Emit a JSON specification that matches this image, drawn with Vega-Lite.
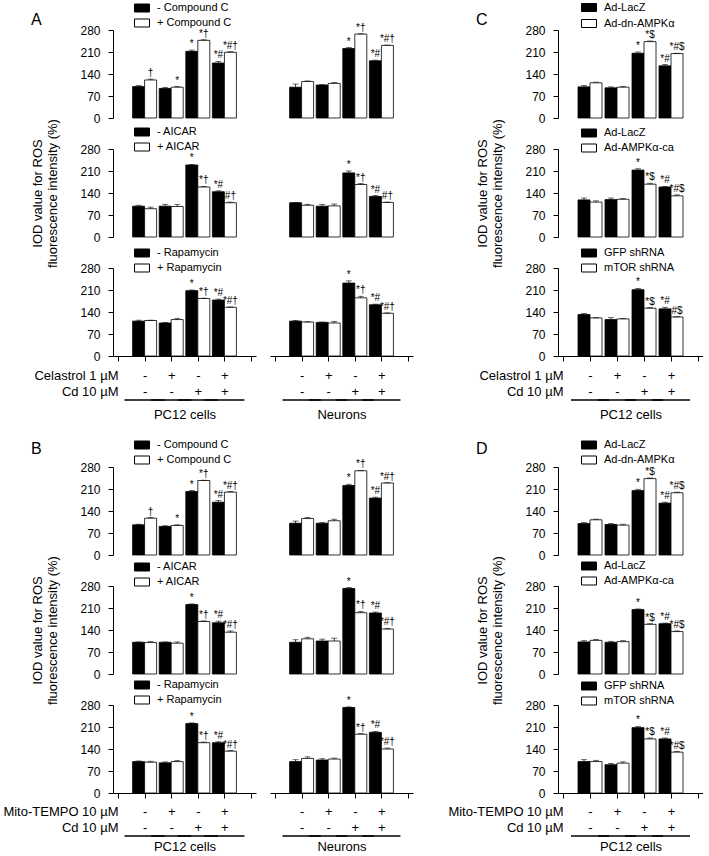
{
"$schema":"https://vega.github.io/schema/vega-lite/v6.json",
"background":"white",
"padding":{"left":2,"top":2,"right":0,"bottom":0},
"columns":4,
"spacing":{"row":31,"column":14},
"bounds":"flush",
"resolve":{"scale":{"x":"independent","y":"independent","fill":"independent"},"legend":{"fill":"independent"},"axis":{"x":"independent","y":"independent"}},
"datasets":{
"A1P":[{"g":1,"k":0,"t":"- Compound C","v":100,"hi":103,"s":""},{"g":1,"k":1,"t":"+ Compound C","v":121,"hi":124,"s":"†"},{"g":2,"k":0,"t":"- Compound C","v":94,"hi":97,"s":""},{"g":2,"k":1,"t":"+ Compound C","v":98,"hi":100,"s":"*"},{"g":3,"k":0,"t":"- Compound C","v":212,"hi":216,"s":"*"},{"g":3,"k":1,"t":"+ Compound C","v":247,"hi":249,"s":"*†"},{"g":4,"k":0,"t":"- Compound C","v":175,"hi":180,"s":"*#"},{"g":4,"k":1,"t":"+ Compound C","v":209,"hi":211,"s":"*#†"}],
"A1N":[{"g":1,"k":0,"t":"- Compound C","v":98,"hi":108,"s":""},{"g":1,"k":1,"t":"+ Compound C","v":116,"hi":118,"s":""},{"g":2,"k":0,"t":"- Compound C","v":105,"hi":106,"s":""},{"g":2,"k":1,"t":"+ Compound C","v":110,"hi":113,"s":""},{"g":3,"k":0,"t":"- Compound C","v":221,"hi":224,"s":"*"},{"g":3,"k":1,"t":"+ Compound C","v":267,"hi":268,"s":"*†"},{"g":4,"k":0,"t":"- Compound C","v":182,"hi":184,"s":"*#"},{"g":4,"k":1,"t":"+ Compound C","v":231,"hi":232,"s":"*#†"}],
"A2P":[{"g":1,"k":0,"t":"- AICAR","v":98,"hi":101,"s":""},{"g":1,"k":1,"t":"+ AICAR","v":90,"hi":95,"s":""},{"g":2,"k":0,"t":"- AICAR","v":98,"hi":104,"s":""},{"g":2,"k":1,"t":"+ AICAR","v":97,"hi":103,"s":""},{"g":3,"k":0,"t":"- AICAR","v":229,"hi":231,"s":"*"},{"g":3,"k":1,"t":"+ AICAR","v":159,"hi":161,"s":"*†"},{"g":4,"k":0,"t":"- AICAR","v":144,"hi":147,"s":"*#"},{"g":4,"k":1,"t":"+ AICAR","v":109,"hi":111,"s":"#†"}],
"A2N":[{"g":1,"k":0,"t":"- AICAR","v":109,"hi":110,"s":""},{"g":1,"k":1,"t":"+ AICAR","v":101,"hi":104,"s":""},{"g":2,"k":0,"t":"- AICAR","v":98,"hi":104,"s":""},{"g":2,"k":1,"t":"+ AICAR","v":99,"hi":105,"s":""},{"g":3,"k":0,"t":"- AICAR","v":204,"hi":210,"s":"*"},{"g":3,"k":1,"t":"+ AICAR","v":167,"hi":170,"s":"*†"},{"g":4,"k":0,"t":"- AICAR","v":129,"hi":132,"s":"*#"},{"g":4,"k":1,"t":"+ AICAR","v":110,"hi":111,"s":"#†"}],
"A3P":[{"g":1,"k":0,"t":"- Rapamycin","v":111,"hi":114,"s":""},{"g":1,"k":1,"t":"+ Rapamycin","v":113,"hi":114,"s":""},{"g":2,"k":0,"t":"- Rapamycin","v":105,"hi":107,"s":""},{"g":2,"k":1,"t":"+ Rapamycin","v":116,"hi":120,"s":""},{"g":3,"k":0,"t":"- Rapamycin","v":208,"hi":210,"s":"*"},{"g":3,"k":1,"t":"+ Rapamycin","v":183,"hi":184,"s":"*†"},{"g":4,"k":0,"t":"- Rapamycin","v":178,"hi":181,"s":"*#"},{"g":4,"k":1,"t":"+ Rapamycin","v":155,"hi":156,"s":"*#†"}],
"A3N":[{"g":1,"k":0,"t":"- Rapamycin","v":111,"hi":113,"s":""},{"g":1,"k":1,"t":"+ Rapamycin","v":108,"hi":109,"s":""},{"g":2,"k":0,"t":"- Rapamycin","v":107,"hi":108,"s":""},{"g":2,"k":1,"t":"+ Rapamycin","v":105,"hi":110,"s":""},{"g":3,"k":0,"t":"- Rapamycin","v":232,"hi":239,"s":"*"},{"g":3,"k":1,"t":"+ Rapamycin","v":185,"hi":190,"s":"*†"},{"g":4,"k":0,"t":"- Rapamycin","v":163,"hi":165,"s":"*#"},{"g":4,"k":1,"t":"+ Rapamycin","v":136,"hi":137,"s":"*#†"}],
"C1":[{"g":1,"k":0,"t":"Ad-LacZ","v":99,"hi":103,"s":""},{"g":1,"k":1,"t":"Ad-dn-AMPKα","v":112,"hi":114,"s":""},{"g":2,"k":0,"t":"Ad-LacZ","v":96,"hi":99,"s":""},{"g":2,"k":1,"t":"Ad-dn-AMPKα","v":98,"hi":100,"s":""},{"g":3,"k":0,"t":"Ad-LacZ","v":206,"hi":210,"s":"*"},{"g":3,"k":1,"t":"Ad-dn-AMPKα","v":243,"hi":245,"s":"*$"},{"g":4,"k":0,"t":"Ad-LacZ","v":166,"hi":170,"s":"*#"},{"g":4,"k":1,"t":"Ad-dn-AMPKα","v":205,"hi":206,"s":"*#$"}],
"C2":[{"g":1,"k":0,"t":"Ad-LacZ","v":118,"hi":124,"s":""},{"g":1,"k":1,"t":"Ad-AMPKα-ca","v":111,"hi":115,"s":""},{"g":2,"k":0,"t":"Ad-LacZ","v":119,"hi":124,"s":""},{"g":2,"k":1,"t":"Ad-AMPKα-ca","v":120,"hi":122,"s":""},{"g":3,"k":0,"t":"Ad-LacZ","v":213,"hi":217,"s":"*"},{"g":3,"k":1,"t":"Ad-AMPKα-ca","v":168,"hi":171,"s":"*$"},{"g":4,"k":0,"t":"Ad-LacZ","v":159,"hi":161,"s":"*#"},{"g":4,"k":1,"t":"Ad-AMPKα-ca","v":131,"hi":134,"s":"*#$"}],
"C3":[{"g":1,"k":0,"t":"GFP shRNA","v":132,"hi":135,"s":""},{"g":1,"k":1,"t":"mTOR shRNA","v":121,"hi":122,"s":""},{"g":2,"k":0,"t":"GFP shRNA","v":116,"hi":122,"s":""},{"g":2,"k":1,"t":"mTOR shRNA","v":118,"hi":119,"s":""},{"g":3,"k":0,"t":"GFP shRNA","v":211,"hi":215,"s":"*"},{"g":3,"k":1,"t":"mTOR shRNA","v":152,"hi":154,"s":"*$"},{"g":4,"k":0,"t":"GFP shRNA","v":150,"hi":155,"s":"*#"},{"g":4,"k":1,"t":"mTOR shRNA","v":124,"hi":125,"s":"#$"}],
"B1P":[{"g":1,"k":0,"t":"- Compound C","v":96,"hi":98,"s":""},{"g":1,"k":1,"t":"+ Compound C","v":117,"hi":119,"s":"†"},{"g":2,"k":0,"t":"- Compound C","v":91,"hi":93,"s":""},{"g":2,"k":1,"t":"+ Compound C","v":94,"hi":96,"s":"*"},{"g":3,"k":0,"t":"- Compound C","v":202,"hi":205,"s":"*"},{"g":3,"k":1,"t":"+ Compound C","v":237,"hi":238,"s":"*†"},{"g":4,"k":0,"t":"- Compound C","v":168,"hi":173,"s":"*#"},{"g":4,"k":1,"t":"+ Compound C","v":200,"hi":202,"s":"*#†"}],
"B1N":[{"g":1,"k":0,"t":"- Compound C","v":101,"hi":108,"s":""},{"g":1,"k":1,"t":"+ Compound C","v":116,"hi":119,"s":""},{"g":2,"k":0,"t":"- Compound C","v":101,"hi":103,"s":""},{"g":2,"k":1,"t":"+ Compound C","v":109,"hi":114,"s":""},{"g":3,"k":0,"t":"- Compound C","v":221,"hi":225,"s":"*"},{"g":3,"k":1,"t":"+ Compound C","v":268,"hi":269,"s":"*†"},{"g":4,"k":0,"t":"- Compound C","v":181,"hi":184,"s":"*#"},{"g":4,"k":1,"t":"+ Compound C","v":229,"hi":230,"s":"*#†"}],
"B2P":[{"g":1,"k":0,"t":"- AICAR","v":101,"hi":102,"s":""},{"g":1,"k":1,"t":"+ AICAR","v":100,"hi":103,"s":""},{"g":2,"k":0,"t":"- AICAR","v":101,"hi":102,"s":""},{"g":2,"k":1,"t":"+ AICAR","v":98,"hi":102,"s":""},{"g":3,"k":0,"t":"- AICAR","v":221,"hi":223,"s":"*"},{"g":3,"k":1,"t":"+ AICAR","v":167,"hi":169,"s":"*†"},{"g":4,"k":0,"t":"- AICAR","v":163,"hi":168,"s":"*#"},{"g":4,"k":1,"t":"+ AICAR","v":133,"hi":137,"s":"*#†"}],
"B2N":[{"g":1,"k":0,"t":"- AICAR","v":101,"hi":109,"s":""},{"g":1,"k":1,"t":"+ AICAR","v":112,"hi":117,"s":""},{"g":2,"k":0,"t":"- AICAR","v":105,"hi":111,"s":""},{"g":2,"k":1,"t":"+ AICAR","v":105,"hi":114,"s":""},{"g":3,"k":0,"t":"- AICAR","v":272,"hi":275,"s":"*"},{"g":3,"k":1,"t":"+ AICAR","v":195,"hi":199,"s":"*†"},{"g":4,"k":0,"t":"- AICAR","v":194,"hi":197,"s":"*#"},{"g":4,"k":1,"t":"+ AICAR","v":143,"hi":145,"s":"*#†"}],
"B3P":[{"g":1,"k":0,"t":"- Rapamycin","v":100,"hi":102,"s":""},{"g":1,"k":1,"t":"+ Rapamycin","v":98,"hi":101,"s":""},{"g":2,"k":0,"t":"- Rapamycin","v":96,"hi":99,"s":""},{"g":2,"k":1,"t":"+ Rapamycin","v":100,"hi":103,"s":""},{"g":3,"k":0,"t":"- Rapamycin","v":221,"hi":223,"s":"*"},{"g":3,"k":1,"t":"+ Rapamycin","v":160,"hi":162,"s":"*†"},{"g":4,"k":0,"t":"- Rapamycin","v":160,"hi":163,"s":"*#"},{"g":4,"k":1,"t":"+ Rapamycin","v":133,"hi":135,"s":"*#†"}],
"B3N":[{"g":1,"k":0,"t":"- Rapamycin","v":100,"hi":106,"s":""},{"g":1,"k":1,"t":"+ Rapamycin","v":110,"hi":115,"s":""},{"g":2,"k":0,"t":"- Rapamycin","v":105,"hi":109,"s":""},{"g":2,"k":1,"t":"+ Rapamycin","v":108,"hi":111,"s":""},{"g":3,"k":0,"t":"- Rapamycin","v":272,"hi":274,"s":"*"},{"g":3,"k":1,"t":"+ Rapamycin","v":187,"hi":189,"s":"*†"},{"g":4,"k":0,"t":"- Rapamycin","v":193,"hi":196,"s":"*#"},{"g":4,"k":1,"t":"+ Rapamycin","v":140,"hi":143,"s":"*#†"}],
"D1":[{"g":1,"k":0,"t":"Ad-LacZ","v":100,"hi":103,"s":""},{"g":1,"k":1,"t":"Ad-dn-AMPKα","v":112,"hi":114,"s":""},{"g":2,"k":0,"t":"Ad-LacZ","v":97,"hi":100,"s":""},{"g":2,"k":1,"t":"Ad-dn-AMPKα","v":95,"hi":98,"s":""},{"g":3,"k":0,"t":"Ad-LacZ","v":205,"hi":209,"s":"*"},{"g":3,"k":1,"t":"Ad-dn-AMPKα","v":243,"hi":245,"s":"*$"},{"g":4,"k":0,"t":"Ad-LacZ","v":165,"hi":168,"s":"*#"},{"g":4,"k":1,"t":"Ad-dn-AMPKα","v":198,"hi":200,"s":"*#$"}],
"D2":[{"g":1,"k":0,"t":"Ad-LacZ","v":102,"hi":106,"s":""},{"g":1,"k":1,"t":"Ad-AMPKα-ca","v":107,"hi":110,"s":""},{"g":2,"k":0,"t":"Ad-LacZ","v":101,"hi":104,"s":""},{"g":2,"k":1,"t":"Ad-AMPKα-ca","v":103,"hi":106,"s":""},{"g":3,"k":0,"t":"Ad-LacZ","v":205,"hi":207,"s":"*"},{"g":3,"k":1,"t":"Ad-AMPKα-ca","v":158,"hi":160,"s":"*$"},{"g":4,"k":0,"t":"Ad-LacZ","v":160,"hi":162,"s":"*#"},{"g":4,"k":1,"t":"Ad-AMPKα-ca","v":135,"hi":137,"s":"*#$"}],
"D3":[{"g":1,"k":0,"t":"GFP shRNA","v":100,"hi":106,"s":""},{"g":1,"k":1,"t":"mTOR shRNA","v":100,"hi":104,"s":""},{"g":2,"k":0,"t":"GFP shRNA","v":90,"hi":94,"s":""},{"g":2,"k":1,"t":"mTOR shRNA","v":95,"hi":99,"s":""},{"g":3,"k":0,"t":"GFP shRNA","v":208,"hi":212,"s":"*"},{"g":3,"k":1,"t":"mTOR shRNA","v":172,"hi":175,"s":"*$"},{"g":4,"k":0,"t":"GFP shRNA","v":172,"hi":175,"s":"*#"},{"g":4,"k":1,"t":"mTOR shRNA","v":130,"hi":132,"s":"*#$"}]
},
"concat":[
{"width":143,"height":88,"data":{"name":"A1P"},"title":{"text":"A","anchor":"start","frame":"group","dx":-82,"dy":29,"offset":4,"fontSize":16},
"encoding":{"x":{"field":"g","type":"quantitative","scale":{"domain":[0,5],"nice":false,"zero":false},"axis":null},"y":{"field":"v","type":"quantitative","stack":null,"scale":{"domain":[0,280],"nice":false},"axis":{"values":[0,70,140,210,280],"tickSize":5,"labelPadding":8,"labelFontSize":12,"title":null}}},
"layer":[
{"mark":{"type":"bar","orient":"vertical","width":12,"xOffset":{"expr":"datum.k == 0 ? -6 : 6"},"stroke":"black","strokeWidth":0.8},"encoding":{"fill":{"field":"t","type":"nominal","sort":null,"scale":{"range":["black","white"]},"legend":{"orient":"none","legendX":23.5,"legendY":-27.5,"title":null,"direction":"vertical","padding":0,"rowPadding":2,"labelFontSize":11,"labelOffset":9.5,"symbolType":"M-1.5,-0.8H1.5V0.8H-1.5Z","symbolSize":100,"symbolStrokeColor":"black","symbolStrokeWidth":1}}}},
{"mark":{"type":"rule","color":"black","strokeWidth":0.8,"xOffset":{"expr":"datum.k == 0 ? -6 : 6"}},"encoding":{"y2":{"field":"hi"}}},
{"mark":{"type":"tick","orient":"horizontal","size":6,"thickness":0.8,"color":"black","xOffset":{"expr":"datum.k == 0 ? -6 : 6"}},"encoding":{"y":{"field":"hi","type":"quantitative","scale":{"domain":[0,280],"nice":false},"axis":{"values":[0,70,140,210,280],"tickSize":5,"labelPadding":8,"labelFontSize":12,"title":null}}}},
{"mark":{"type":"text","fontSize":10,"dy":-3,"baseline":"alphabetic","color":"black","xOffset":{"expr":"datum.k == 0 ? -6 : 6"}},"encoding":{"y":{"field":"hi","type":"quantitative","scale":{"domain":[0,280],"nice":false},"axis":{"values":[0,70,140,210,280],"tickSize":5,"labelPadding":8,"labelFontSize":12,"title":null}},"text":{"field":"s","type":"nominal"}}}
]},
{"width":143,"height":88,"data":{"name":"A1N"},
"encoding":{"x":{"field":"g","type":"quantitative","scale":{"domain":[0,5],"nice":false,"zero":false},"axis":null},"y":{"field":"v","type":"quantitative","stack":null,"scale":{"domain":[0,280],"nice":false},"axis":null}},
"layer":[
{"mark":{"type":"bar","orient":"vertical","width":12,"xOffset":{"expr":"datum.k == 0 ? -6 : 6"},"stroke":"black","strokeWidth":0.8},"encoding":{"fill":{"field":"t","type":"nominal","sort":null,"scale":{"range":["black","white"]},"legend":null}}},
{"mark":{"type":"rule","color":"black","strokeWidth":0.8,"xOffset":{"expr":"datum.k == 0 ? -6 : 6"}},"encoding":{"y2":{"field":"hi"}}},
{"mark":{"type":"tick","orient":"horizontal","size":6,"thickness":0.8,"color":"black","xOffset":{"expr":"datum.k == 0 ? -6 : 6"}},"encoding":{"y":{"field":"hi","type":"quantitative","scale":{"domain":[0,280],"nice":false},"axis":null}}},
{"mark":{"type":"text","fontSize":10,"dy":-3,"baseline":"alphabetic","color":"black","xOffset":{"expr":"datum.k == 0 ? -6 : 6"}},"encoding":{"y":{"field":"hi","type":"quantitative","scale":{"domain":[0,280],"nice":false},"axis":null},"text":{"field":"s","type":"nominal"}}}
]},
{"width":117,"height":88,"data":{"values":[]},"mark":{"type":"point","opacity":0},"encoding":{}},
{"width":145,"height":88,"data":{"name":"C1"},"title":{"text":"C","anchor":"start","frame":"group","dx":-82,"dy":30,"offset":4,"fontSize":16},
"encoding":{"x":{"field":"g","type":"quantitative","scale":{"domain":[0,5],"nice":false,"zero":false},"axis":null},"y":{"field":"v","type":"quantitative","stack":null,"scale":{"domain":[0,280],"nice":false},"axis":{"values":[0,70,140,210,280],"tickSize":5,"labelPadding":8,"labelFontSize":12,"title":null}}},
"layer":[
{"mark":{"type":"bar","orient":"vertical","width":12,"xOffset":{"expr":"datum.k == 0 ? -6 : 6"},"stroke":"black","strokeWidth":0.8},"encoding":{"fill":{"field":"t","type":"nominal","sort":null,"scale":{"range":["black","white"]},"legend":{"orient":"none","legendX":25.5,"legendY":-28,"title":null,"direction":"vertical","padding":0,"rowPadding":3,"labelFontSize":11,"labelOffset":9.5,"symbolType":"M-1.5,-0.8H1.5V0.8H-1.5Z","symbolSize":100,"symbolStrokeColor":"black","symbolStrokeWidth":1}}}},
{"mark":{"type":"rule","color":"black","strokeWidth":0.8,"xOffset":{"expr":"datum.k == 0 ? -6 : 6"}},"encoding":{"y2":{"field":"hi"}}},
{"mark":{"type":"tick","orient":"horizontal","size":6,"thickness":0.8,"color":"black","xOffset":{"expr":"datum.k == 0 ? -6 : 6"}},"encoding":{"y":{"field":"hi","type":"quantitative","scale":{"domain":[0,280],"nice":false},"axis":{"values":[0,70,140,210,280],"tickSize":5,"labelPadding":8,"labelFontSize":12,"title":null}}}},
{"mark":{"type":"text","fontSize":10,"dy":-3,"baseline":"alphabetic","color":"black","xOffset":{"expr":"datum.k == 0 ? -6 : 6"}},"encoding":{"y":{"field":"hi","type":"quantitative","scale":{"domain":[0,280],"nice":false},"axis":{"values":[0,70,140,210,280],"tickSize":5,"labelPadding":8,"labelFontSize":12,"title":null}},"text":{"field":"s","type":"nominal"}}}
]},

{"width":143,"height":88,"data":{"name":"A2P"},
"encoding":{"x":{"field":"g","type":"quantitative","scale":{"domain":[0,5],"nice":false,"zero":false},"axis":null},"y":{"field":"v","type":"quantitative","stack":null,"scale":{"domain":[0,280],"nice":false},"axis":{"values":[0,70,140,210,280],"tickSize":5,"labelPadding":8,"labelFontSize":12,"title":["IOD value for ROS","fluorescence intensity (%)"],"titleFontSize":13,"titlePadding":20,"titleLineHeight":15}}},
"layer":[
{"mark":{"type":"bar","orient":"vertical","width":12,"xOffset":{"expr":"datum.k == 0 ? -6 : 6"},"stroke":"black","strokeWidth":0.8},"encoding":{"fill":{"field":"t","type":"nominal","sort":null,"scale":{"range":["black","white"]},"legend":{"orient":"none","legendX":23.5,"legendY":-22.5,"title":null,"direction":"vertical","padding":0,"rowPadding":2,"labelFontSize":11,"labelOffset":9.5,"symbolType":"M-1.5,-0.8H1.5V0.8H-1.5Z","symbolSize":100,"symbolStrokeColor":"black","symbolStrokeWidth":1}}}},
{"mark":{"type":"rule","color":"black","strokeWidth":0.8,"xOffset":{"expr":"datum.k == 0 ? -6 : 6"}},"encoding":{"y2":{"field":"hi"}}},
{"mark":{"type":"tick","orient":"horizontal","size":6,"thickness":0.8,"color":"black","xOffset":{"expr":"datum.k == 0 ? -6 : 6"}},"encoding":{"y":{"field":"hi","type":"quantitative","scale":{"domain":[0,280],"nice":false},"axis":{"values":[0,70,140,210,280],"tickSize":5,"labelPadding":8,"labelFontSize":12,"title":["IOD value for ROS","fluorescence intensity (%)"],"titleFontSize":13,"titlePadding":20,"titleLineHeight":15}}}},
{"mark":{"type":"text","fontSize":10,"dy":-3,"baseline":"alphabetic","color":"black","xOffset":{"expr":"datum.k == 0 ? -6 : 6"}},"encoding":{"y":{"field":"hi","type":"quantitative","scale":{"domain":[0,280],"nice":false},"axis":{"values":[0,70,140,210,280],"tickSize":5,"labelPadding":8,"labelFontSize":12,"title":["IOD value for ROS","fluorescence intensity (%)"],"titleFontSize":13,"titlePadding":20,"titleLineHeight":15}},"text":{"field":"s","type":"nominal"}}}
]},
{"width":143,"height":88,"data":{"name":"A2N"},
"encoding":{"x":{"field":"g","type":"quantitative","scale":{"domain":[0,5],"nice":false,"zero":false},"axis":null},"y":{"field":"v","type":"quantitative","stack":null,"scale":{"domain":[0,280],"nice":false},"axis":null}},
"layer":[
{"mark":{"type":"bar","orient":"vertical","width":12,"xOffset":{"expr":"datum.k == 0 ? -6 : 6"},"stroke":"black","strokeWidth":0.8},"encoding":{"fill":{"field":"t","type":"nominal","sort":null,"scale":{"range":["black","white"]},"legend":null}}},
{"mark":{"type":"rule","color":"black","strokeWidth":0.8,"xOffset":{"expr":"datum.k == 0 ? -6 : 6"}},"encoding":{"y2":{"field":"hi"}}},
{"mark":{"type":"tick","orient":"horizontal","size":6,"thickness":0.8,"color":"black","xOffset":{"expr":"datum.k == 0 ? -6 : 6"}},"encoding":{"y":{"field":"hi","type":"quantitative","scale":{"domain":[0,280],"nice":false},"axis":null}}},
{"mark":{"type":"text","fontSize":10,"dy":-3,"baseline":"alphabetic","color":"black","xOffset":{"expr":"datum.k == 0 ? -6 : 6"}},"encoding":{"y":{"field":"hi","type":"quantitative","scale":{"domain":[0,280],"nice":false},"axis":null},"text":{"field":"s","type":"nominal"}}}
]},
{"width":117,"height":88,"data":{"values":[]},"mark":{"type":"point","opacity":0},"encoding":{}},
{"width":145,"height":88,"data":{"name":"C2"},
"encoding":{"x":{"field":"g","type":"quantitative","scale":{"domain":[0,5],"nice":false,"zero":false},"axis":null},"y":{"field":"v","type":"quantitative","stack":null,"scale":{"domain":[0,280],"nice":false},"axis":{"values":[0,70,140,210,280],"tickSize":5,"labelPadding":8,"labelFontSize":12,"title":["IOD value for ROS","fluorescence intensity (%)"],"titleFontSize":13,"titlePadding":20,"titleLineHeight":15}}},
"layer":[
{"mark":{"type":"bar","orient":"vertical","width":12,"xOffset":{"expr":"datum.k == 0 ? -6 : 6"},"stroke":"black","strokeWidth":0.8},"encoding":{"fill":{"field":"t","type":"nominal","sort":null,"scale":{"range":["black","white"]},"legend":{"orient":"none","legendX":25.5,"legendY":-21.5,"title":null,"direction":"vertical","padding":0,"rowPadding":2,"labelFontSize":11,"labelOffset":9.5,"symbolType":"M-1.5,-0.8H1.5V0.8H-1.5Z","symbolSize":100,"symbolStrokeColor":"black","symbolStrokeWidth":1}}}},
{"mark":{"type":"rule","color":"black","strokeWidth":0.8,"xOffset":{"expr":"datum.k == 0 ? -6 : 6"}},"encoding":{"y2":{"field":"hi"}}},
{"mark":{"type":"tick","orient":"horizontal","size":6,"thickness":0.8,"color":"black","xOffset":{"expr":"datum.k == 0 ? -6 : 6"}},"encoding":{"y":{"field":"hi","type":"quantitative","scale":{"domain":[0,280],"nice":false},"axis":{"values":[0,70,140,210,280],"tickSize":5,"labelPadding":8,"labelFontSize":12,"title":["IOD value for ROS","fluorescence intensity (%)"],"titleFontSize":13,"titlePadding":20,"titleLineHeight":15}}}},
{"mark":{"type":"text","fontSize":10,"dy":-3,"baseline":"alphabetic","color":"black","xOffset":{"expr":"datum.k == 0 ? -6 : 6"}},"encoding":{"y":{"field":"hi","type":"quantitative","scale":{"domain":[0,280],"nice":false},"axis":{"values":[0,70,140,210,280],"tickSize":5,"labelPadding":8,"labelFontSize":12,"title":["IOD value for ROS","fluorescence intensity (%)"],"titleFontSize":13,"titlePadding":20,"titleLineHeight":15}},"text":{"field":"s","type":"nominal"}}}
]},

{"width":143,"height":88,"data":{"name":"A3P"},
"encoding":{"x":{"field":"g","type":"quantitative","scale":{"domain":[0,5],"nice":false,"zero":false},"axis":{"values":[0,1,2,3,4,5],"tickSize":5,"labelPadding":8,"labelFontSize":13,"labelLineHeight":16,"labelOverlap":false,"labelBound":false,"labelFlush":false,"labelAlign":{"condition":{"test":"datum.value == 0","value":"right"},"value":"center"},"labelExpr":"datum.value == 0 ? ['Celastrol 1 µM', 'Cd 10 µM'] : datum.value == 1 ? ['-', '-'] : datum.value == 2 ? ['+', '-'] : datum.value == 3 ? ['-', '+'] : datum.value == 4 ? ['+', '+'] : ''","title":"PC12 cells","titleFontSize":13,"titlePadding":10}},"y":{"field":"v","type":"quantitative","stack":null,"scale":{"domain":[0,280],"nice":false},"axis":{"values":[0,70,140,210,280],"tickSize":5,"labelPadding":8,"labelFontSize":12,"title":null}}},
"layer":[
{"mark":{"type":"bar","orient":"vertical","width":12,"xOffset":{"expr":"datum.k == 0 ? -6 : 6"},"stroke":"black","strokeWidth":0.8},"encoding":{"fill":{"field":"t","type":"nominal","sort":null,"scale":{"range":["black","white"]},"legend":{"orient":"none","legendX":23.5,"legendY":-20.5,"title":null,"direction":"vertical","padding":0,"rowPadding":2,"labelFontSize":11,"labelOffset":9.5,"symbolType":"M-1.5,-0.8H1.5V0.8H-1.5Z","symbolSize":100,"symbolStrokeColor":"black","symbolStrokeWidth":1}}}},
{"mark":{"type":"rule","color":"black","strokeWidth":0.8,"xOffset":{"expr":"datum.k == 0 ? -6 : 6"}},"encoding":{"y2":{"field":"hi"}}},
{"mark":{"type":"tick","orient":"horizontal","size":6,"thickness":0.8,"color":"black","xOffset":{"expr":"datum.k == 0 ? -6 : 6"}},"encoding":{"y":{"field":"hi","type":"quantitative","scale":{"domain":[0,280],"nice":false},"axis":{"values":[0,70,140,210,280],"tickSize":5,"labelPadding":8,"labelFontSize":12,"title":null}}}},
{"mark":{"type":"text","fontSize":10,"dy":-3,"baseline":"alphabetic","color":"black","xOffset":{"expr":"datum.k == 0 ? -6 : 6"}},"encoding":{"y":{"field":"hi","type":"quantitative","scale":{"domain":[0,280],"nice":false},"axis":{"values":[0,70,140,210,280],"tickSize":5,"labelPadding":8,"labelFontSize":12,"title":null}},"text":{"field":"s","type":"nominal"}}},
{"mark":{"type":"rule","color":"black","strokeWidth":1,"yOffset":44,"xOffset":-20,"x2Offset":20},"encoding":{"x2":{"field":"g"},"y":{"value":"height"}}}
]},
{"width":143,"height":88,"data":{"name":"A3N"},
"encoding":{"x":{"field":"g","type":"quantitative","scale":{"domain":[0,5],"nice":false,"zero":false},"axis":{"values":[0,1,2,3,4,5],"tickSize":5,"labelPadding":8,"labelFontSize":13,"labelLineHeight":16,"labelOverlap":false,"labelBound":false,"labelFlush":false,"labelExpr":"datum.value == 1 ? ['-', '-'] : datum.value == 2 ? ['+', '-'] : datum.value == 3 ? ['-', '+'] : datum.value == 4 ? ['+', '+'] : ''","title":"Neurons","titleFontSize":13,"titlePadding":10}},"y":{"field":"v","type":"quantitative","stack":null,"scale":{"domain":[0,280],"nice":false},"axis":null}},
"layer":[
{"mark":{"type":"bar","orient":"vertical","width":12,"xOffset":{"expr":"datum.k == 0 ? -6 : 6"},"stroke":"black","strokeWidth":0.8},"encoding":{"fill":{"field":"t","type":"nominal","sort":null,"scale":{"range":["black","white"]},"legend":null}}},
{"mark":{"type":"rule","color":"black","strokeWidth":0.8,"xOffset":{"expr":"datum.k == 0 ? -6 : 6"}},"encoding":{"y2":{"field":"hi"}}},
{"mark":{"type":"tick","orient":"horizontal","size":6,"thickness":0.8,"color":"black","xOffset":{"expr":"datum.k == 0 ? -6 : 6"}},"encoding":{"y":{"field":"hi","type":"quantitative","scale":{"domain":[0,280],"nice":false},"axis":null}}},
{"mark":{"type":"text","fontSize":10,"dy":-3,"baseline":"alphabetic","color":"black","xOffset":{"expr":"datum.k == 0 ? -6 : 6"}},"encoding":{"y":{"field":"hi","type":"quantitative","scale":{"domain":[0,280],"nice":false},"axis":null},"text":{"field":"s","type":"nominal"}}},
{"mark":{"type":"rule","color":"black","strokeWidth":1,"yOffset":44,"xOffset":-19,"x2Offset":19},"encoding":{"x2":{"field":"g"},"y":{"value":"height"}}}
]},
{"width":117,"height":88,"data":{"values":[]},"mark":{"type":"point","opacity":0},"encoding":{}},
{"width":145,"height":88,"data":{"name":"C3"},
"encoding":{"x":{"field":"g","type":"quantitative","scale":{"domain":[0,5],"nice":false,"zero":false},"axis":{"values":[0,1,2,3,4,5],"tickSize":5,"labelPadding":8,"labelFontSize":13,"labelLineHeight":16,"labelOverlap":false,"labelBound":false,"labelFlush":false,"labelAlign":{"condition":{"test":"datum.value == 0","value":"right"},"value":"center"},"labelExpr":"datum.value == 0 ? ['Celastrol 1 µM', 'Cd 10 µM'] : datum.value == 1 ? ['-', '-'] : datum.value == 2 ? ['+', '-'] : datum.value == 3 ? ['-', '+'] : datum.value == 4 ? ['+', '+'] : ''","title":"PC12 cells","titleFontSize":13,"titlePadding":10}},"y":{"field":"v","type":"quantitative","stack":null,"scale":{"domain":[0,280],"nice":false},"axis":{"values":[0,70,140,210,280],"tickSize":5,"labelPadding":8,"labelFontSize":12,"title":null}}},
"layer":[
{"mark":{"type":"bar","orient":"vertical","width":12,"xOffset":{"expr":"datum.k == 0 ? -6 : 6"},"stroke":"black","strokeWidth":0.8},"encoding":{"fill":{"field":"t","type":"nominal","sort":null,"scale":{"range":["black","white"]},"legend":{"orient":"none","legendX":25.5,"legendY":-20.5,"title":null,"direction":"vertical","padding":0,"rowPadding":2,"labelFontSize":11,"labelOffset":9.5,"symbolType":"M-1.5,-0.8H1.5V0.8H-1.5Z","symbolSize":100,"symbolStrokeColor":"black","symbolStrokeWidth":1}}}},
{"mark":{"type":"rule","color":"black","strokeWidth":0.8,"xOffset":{"expr":"datum.k == 0 ? -6 : 6"}},"encoding":{"y2":{"field":"hi"}}},
{"mark":{"type":"tick","orient":"horizontal","size":6,"thickness":0.8,"color":"black","xOffset":{"expr":"datum.k == 0 ? -6 : 6"}},"encoding":{"y":{"field":"hi","type":"quantitative","scale":{"domain":[0,280],"nice":false},"axis":{"values":[0,70,140,210,280],"tickSize":5,"labelPadding":8,"labelFontSize":12,"title":null}}}},
{"mark":{"type":"text","fontSize":10,"dy":-3,"baseline":"alphabetic","color":"black","xOffset":{"expr":"datum.k == 0 ? -6 : 6"}},"encoding":{"y":{"field":"hi","type":"quantitative","scale":{"domain":[0,280],"nice":false},"axis":{"values":[0,70,140,210,280],"tickSize":5,"labelPadding":8,"labelFontSize":12,"title":null}},"text":{"field":"s","type":"nominal"}}},
{"mark":{"type":"rule","color":"black","strokeWidth":1,"yOffset":44,"xOffset":-19,"x2Offset":19},"encoding":{"x2":{"field":"g"},"y":{"value":"height"}}}
]},

{"width":143,"height":49,"data":{"values":[]},"mark":{"type":"point","opacity":0},"encoding":{}},
{"width":143,"height":49,"data":{"values":[]},"mark":{"type":"point","opacity":0},"encoding":{}},
{"width":117,"height":49,"data":{"values":[]},"mark":{"type":"point","opacity":0},"encoding":{}},
{"width":145,"height":49,"data":{"values":[]},"mark":{"type":"point","opacity":0},"encoding":{}},

{"width":143,"height":88,"data":{"name":"B1P"},"title":{"text":"B","anchor":"start","frame":"group","dx":-82,"dy":21,"offset":4,"fontSize":16},
"encoding":{"x":{"field":"g","type":"quantitative","scale":{"domain":[0,5],"nice":false,"zero":false},"axis":null},"y":{"field":"v","type":"quantitative","stack":null,"scale":{"domain":[0,280],"nice":false},"axis":{"values":[0,70,140,210,280],"tickSize":5,"labelPadding":8,"labelFontSize":12,"title":null}}},
"layer":[
{"mark":{"type":"bar","orient":"vertical","width":12,"xOffset":{"expr":"datum.k == 0 ? -6 : 6"},"stroke":"black","strokeWidth":0.8},"encoding":{"fill":{"field":"t","type":"nominal","sort":null,"scale":{"range":["black","white"]},"legend":{"orient":"none","legendX":23.5,"legendY":-27.5,"title":null,"direction":"vertical","padding":0,"rowPadding":2,"labelFontSize":11,"labelOffset":9.5,"symbolType":"M-1.5,-0.8H1.5V0.8H-1.5Z","symbolSize":100,"symbolStrokeColor":"black","symbolStrokeWidth":1}}}},
{"mark":{"type":"rule","color":"black","strokeWidth":0.8,"xOffset":{"expr":"datum.k == 0 ? -6 : 6"}},"encoding":{"y2":{"field":"hi"}}},
{"mark":{"type":"tick","orient":"horizontal","size":6,"thickness":0.8,"color":"black","xOffset":{"expr":"datum.k == 0 ? -6 : 6"}},"encoding":{"y":{"field":"hi","type":"quantitative","scale":{"domain":[0,280],"nice":false},"axis":{"values":[0,70,140,210,280],"tickSize":5,"labelPadding":8,"labelFontSize":12,"title":null}}}},
{"mark":{"type":"text","fontSize":10,"dy":-3,"baseline":"alphabetic","color":"black","xOffset":{"expr":"datum.k == 0 ? -6 : 6"}},"encoding":{"y":{"field":"hi","type":"quantitative","scale":{"domain":[0,280],"nice":false},"axis":{"values":[0,70,140,210,280],"tickSize":5,"labelPadding":8,"labelFontSize":12,"title":null}},"text":{"field":"s","type":"nominal"}}}
]},
{"width":143,"height":88,"data":{"name":"B1N"},
"encoding":{"x":{"field":"g","type":"quantitative","scale":{"domain":[0,5],"nice":false,"zero":false},"axis":null},"y":{"field":"v","type":"quantitative","stack":null,"scale":{"domain":[0,280],"nice":false},"axis":null}},
"layer":[
{"mark":{"type":"bar","orient":"vertical","width":12,"xOffset":{"expr":"datum.k == 0 ? -6 : 6"},"stroke":"black","strokeWidth":0.8},"encoding":{"fill":{"field":"t","type":"nominal","sort":null,"scale":{"range":["black","white"]},"legend":null}}},
{"mark":{"type":"rule","color":"black","strokeWidth":0.8,"xOffset":{"expr":"datum.k == 0 ? -6 : 6"}},"encoding":{"y2":{"field":"hi"}}},
{"mark":{"type":"tick","orient":"horizontal","size":6,"thickness":0.8,"color":"black","xOffset":{"expr":"datum.k == 0 ? -6 : 6"}},"encoding":{"y":{"field":"hi","type":"quantitative","scale":{"domain":[0,280],"nice":false},"axis":null}}},
{"mark":{"type":"text","fontSize":10,"dy":-3,"baseline":"alphabetic","color":"black","xOffset":{"expr":"datum.k == 0 ? -6 : 6"}},"encoding":{"y":{"field":"hi","type":"quantitative","scale":{"domain":[0,280],"nice":false},"axis":null},"text":{"field":"s","type":"nominal"}}}
]},
{"width":117,"height":88,"data":{"values":[]},"mark":{"type":"point","opacity":0},"encoding":{}},
{"width":145,"height":88,"data":{"name":"D1"},"title":{"text":"D","anchor":"start","frame":"group","dx":-82,"dy":21,"offset":4,"fontSize":16},
"encoding":{"x":{"field":"g","type":"quantitative","scale":{"domain":[0,5],"nice":false,"zero":false},"axis":null},"y":{"field":"v","type":"quantitative","stack":null,"scale":{"domain":[0,280],"nice":false},"axis":{"values":[0,70,140,210,280],"tickSize":5,"labelPadding":8,"labelFontSize":12,"title":null}}},
"layer":[
{"mark":{"type":"bar","orient":"vertical","width":12,"xOffset":{"expr":"datum.k == 0 ? -6 : 6"},"stroke":"black","strokeWidth":0.8},"encoding":{"fill":{"field":"t","type":"nominal","sort":null,"scale":{"range":["black","white"]},"legend":{"orient":"none","legendX":25.5,"legendY":-27.5,"title":null,"direction":"vertical","padding":0,"rowPadding":2,"labelFontSize":11,"labelOffset":9.5,"symbolType":"M-1.5,-0.8H1.5V0.8H-1.5Z","symbolSize":100,"symbolStrokeColor":"black","symbolStrokeWidth":1}}}},
{"mark":{"type":"rule","color":"black","strokeWidth":0.8,"xOffset":{"expr":"datum.k == 0 ? -6 : 6"}},"encoding":{"y2":{"field":"hi"}}},
{"mark":{"type":"tick","orient":"horizontal","size":6,"thickness":0.8,"color":"black","xOffset":{"expr":"datum.k == 0 ? -6 : 6"}},"encoding":{"y":{"field":"hi","type":"quantitative","scale":{"domain":[0,280],"nice":false},"axis":{"values":[0,70,140,210,280],"tickSize":5,"labelPadding":8,"labelFontSize":12,"title":null}}}},
{"mark":{"type":"text","fontSize":10,"dy":-3,"baseline":"alphabetic","color":"black","xOffset":{"expr":"datum.k == 0 ? -6 : 6"}},"encoding":{"y":{"field":"hi","type":"quantitative","scale":{"domain":[0,280],"nice":false},"axis":{"values":[0,70,140,210,280],"tickSize":5,"labelPadding":8,"labelFontSize":12,"title":null}},"text":{"field":"s","type":"nominal"}}}
]},

{"width":143,"height":88,"data":{"name":"B2P"},
"encoding":{"x":{"field":"g","type":"quantitative","scale":{"domain":[0,5],"nice":false,"zero":false},"axis":null},"y":{"field":"v","type":"quantitative","stack":null,"scale":{"domain":[0,280],"nice":false},"axis":{"values":[0,70,140,210,280],"tickSize":5,"labelPadding":8,"labelFontSize":12,"title":["IOD value for ROS","fluorescence intensity (%)"],"titleFontSize":13,"titlePadding":20,"titleLineHeight":15}}},
"layer":[
{"mark":{"type":"bar","orient":"vertical","width":12,"xOffset":{"expr":"datum.k == 0 ? -6 : 6"},"stroke":"black","strokeWidth":0.8},"encoding":{"fill":{"field":"t","type":"nominal","sort":null,"scale":{"range":["black","white"]},"legend":{"orient":"none","legendX":23.5,"legendY":-24.5,"title":null,"direction":"vertical","padding":0,"rowPadding":2,"labelFontSize":11,"labelOffset":9.5,"symbolType":"M-1.5,-0.8H1.5V0.8H-1.5Z","symbolSize":100,"symbolStrokeColor":"black","symbolStrokeWidth":1}}}},
{"mark":{"type":"rule","color":"black","strokeWidth":0.8,"xOffset":{"expr":"datum.k == 0 ? -6 : 6"}},"encoding":{"y2":{"field":"hi"}}},
{"mark":{"type":"tick","orient":"horizontal","size":6,"thickness":0.8,"color":"black","xOffset":{"expr":"datum.k == 0 ? -6 : 6"}},"encoding":{"y":{"field":"hi","type":"quantitative","scale":{"domain":[0,280],"nice":false},"axis":{"values":[0,70,140,210,280],"tickSize":5,"labelPadding":8,"labelFontSize":12,"title":["IOD value for ROS","fluorescence intensity (%)"],"titleFontSize":13,"titlePadding":20,"titleLineHeight":15}}}},
{"mark":{"type":"text","fontSize":10,"dy":-3,"baseline":"alphabetic","color":"black","xOffset":{"expr":"datum.k == 0 ? -6 : 6"}},"encoding":{"y":{"field":"hi","type":"quantitative","scale":{"domain":[0,280],"nice":false},"axis":{"values":[0,70,140,210,280],"tickSize":5,"labelPadding":8,"labelFontSize":12,"title":["IOD value for ROS","fluorescence intensity (%)"],"titleFontSize":13,"titlePadding":20,"titleLineHeight":15}},"text":{"field":"s","type":"nominal"}}}
]},
{"width":143,"height":88,"data":{"name":"B2N"},
"encoding":{"x":{"field":"g","type":"quantitative","scale":{"domain":[0,5],"nice":false,"zero":false},"axis":null},"y":{"field":"v","type":"quantitative","stack":null,"scale":{"domain":[0,280],"nice":false},"axis":null}},
"layer":[
{"mark":{"type":"bar","orient":"vertical","width":12,"xOffset":{"expr":"datum.k == 0 ? -6 : 6"},"stroke":"black","strokeWidth":0.8},"encoding":{"fill":{"field":"t","type":"nominal","sort":null,"scale":{"range":["black","white"]},"legend":null}}},
{"mark":{"type":"rule","color":"black","strokeWidth":0.8,"xOffset":{"expr":"datum.k == 0 ? -6 : 6"}},"encoding":{"y2":{"field":"hi"}}},
{"mark":{"type":"tick","orient":"horizontal","size":6,"thickness":0.8,"color":"black","xOffset":{"expr":"datum.k == 0 ? -6 : 6"}},"encoding":{"y":{"field":"hi","type":"quantitative","scale":{"domain":[0,280],"nice":false},"axis":null}}},
{"mark":{"type":"text","fontSize":10,"dy":-3,"baseline":"alphabetic","color":"black","xOffset":{"expr":"datum.k == 0 ? -6 : 6"}},"encoding":{"y":{"field":"hi","type":"quantitative","scale":{"domain":[0,280],"nice":false},"axis":null},"text":{"field":"s","type":"nominal"}}}
]},
{"width":117,"height":88,"data":{"values":[]},"mark":{"type":"point","opacity":0},"encoding":{}},
{"width":145,"height":88,"data":{"name":"D2"},
"encoding":{"x":{"field":"g","type":"quantitative","scale":{"domain":[0,5],"nice":false,"zero":false},"axis":null},"y":{"field":"v","type":"quantitative","stack":null,"scale":{"domain":[0,280],"nice":false},"axis":{"values":[0,70,140,210,280],"tickSize":5,"labelPadding":8,"labelFontSize":12,"title":["IOD value for ROS","fluorescence intensity (%)"],"titleFontSize":13,"titlePadding":20,"titleLineHeight":15}}},
"layer":[
{"mark":{"type":"bar","orient":"vertical","width":12,"xOffset":{"expr":"datum.k == 0 ? -6 : 6"},"stroke":"black","strokeWidth":0.8},"encoding":{"fill":{"field":"t","type":"nominal","sort":null,"scale":{"range":["black","white"]},"legend":{"orient":"none","legendX":25.5,"legendY":-25.5,"title":null,"direction":"vertical","padding":0,"rowPadding":2,"labelFontSize":11,"labelOffset":9.5,"symbolType":"M-1.5,-0.8H1.5V0.8H-1.5Z","symbolSize":100,"symbolStrokeColor":"black","symbolStrokeWidth":1}}}},
{"mark":{"type":"rule","color":"black","strokeWidth":0.8,"xOffset":{"expr":"datum.k == 0 ? -6 : 6"}},"encoding":{"y2":{"field":"hi"}}},
{"mark":{"type":"tick","orient":"horizontal","size":6,"thickness":0.8,"color":"black","xOffset":{"expr":"datum.k == 0 ? -6 : 6"}},"encoding":{"y":{"field":"hi","type":"quantitative","scale":{"domain":[0,280],"nice":false},"axis":{"values":[0,70,140,210,280],"tickSize":5,"labelPadding":8,"labelFontSize":12,"title":["IOD value for ROS","fluorescence intensity (%)"],"titleFontSize":13,"titlePadding":20,"titleLineHeight":15}}}},
{"mark":{"type":"text","fontSize":10,"dy":-3,"baseline":"alphabetic","color":"black","xOffset":{"expr":"datum.k == 0 ? -6 : 6"}},"encoding":{"y":{"field":"hi","type":"quantitative","scale":{"domain":[0,280],"nice":false},"axis":{"values":[0,70,140,210,280],"tickSize":5,"labelPadding":8,"labelFontSize":12,"title":["IOD value for ROS","fluorescence intensity (%)"],"titleFontSize":13,"titlePadding":20,"titleLineHeight":15}},"text":{"field":"s","type":"nominal"}}}
]},

{"width":143,"height":88,"data":{"name":"B3P"},
"encoding":{"x":{"field":"g","type":"quantitative","scale":{"domain":[0,5],"nice":false,"zero":false},"axis":{"values":[0,1,2,3,4,5],"tickSize":5,"labelPadding":7,"labelFontSize":13,"labelLineHeight":16,"labelOverlap":false,"labelBound":false,"labelFlush":false,"labelAlign":{"condition":{"test":"datum.value == 0","value":"right"},"value":"center"},"labelExpr":"datum.value == 0 ? ['Mito-TEMPO 10 µM', 'Cd 10 µM'] : datum.value == 1 ? ['-', '-'] : datum.value == 2 ? ['+', '-'] : datum.value == 3 ? ['-', '+'] : datum.value == 4 ? ['+', '+'] : ''","title":"PC12 cells","titleFontSize":13,"titlePadding":6}},"y":{"field":"v","type":"quantitative","stack":null,"scale":{"domain":[0,280],"nice":false},"axis":{"values":[0,70,140,210,280],"tickSize":5,"labelPadding":8,"labelFontSize":12,"title":null}}},
"layer":[
{"mark":{"type":"bar","orient":"vertical","width":12,"xOffset":{"expr":"datum.k == 0 ? -6 : 6"},"stroke":"black","strokeWidth":0.8},"encoding":{"fill":{"field":"t","type":"nominal","sort":null,"scale":{"range":["black","white"]},"legend":{"orient":"none","legendX":23.5,"legendY":-25.5,"title":null,"direction":"vertical","padding":0,"rowPadding":2,"labelFontSize":11,"labelOffset":9.5,"symbolType":"M-1.5,-0.8H1.5V0.8H-1.5Z","symbolSize":100,"symbolStrokeColor":"black","symbolStrokeWidth":1}}}},
{"mark":{"type":"rule","color":"black","strokeWidth":0.8,"xOffset":{"expr":"datum.k == 0 ? -6 : 6"}},"encoding":{"y2":{"field":"hi"}}},
{"mark":{"type":"tick","orient":"horizontal","size":6,"thickness":0.8,"color":"black","xOffset":{"expr":"datum.k == 0 ? -6 : 6"}},"encoding":{"y":{"field":"hi","type":"quantitative","scale":{"domain":[0,280],"nice":false},"axis":{"values":[0,70,140,210,280],"tickSize":5,"labelPadding":8,"labelFontSize":12,"title":null}}}},
{"mark":{"type":"text","fontSize":10,"dy":-3,"baseline":"alphabetic","color":"black","xOffset":{"expr":"datum.k == 0 ? -6 : 6"}},"encoding":{"y":{"field":"hi","type":"quantitative","scale":{"domain":[0,280],"nice":false},"axis":{"values":[0,70,140,210,280],"tickSize":5,"labelPadding":8,"labelFontSize":12,"title":null}},"text":{"field":"s","type":"nominal"}}},
{"mark":{"type":"rule","color":"black","strokeWidth":1,"yOffset":43,"xOffset":-20,"x2Offset":20},"encoding":{"x2":{"field":"g"},"y":{"value":"height"}}}
]},
{"width":143,"height":88,"data":{"name":"B3N"},
"encoding":{"x":{"field":"g","type":"quantitative","scale":{"domain":[0,5],"nice":false,"zero":false},"axis":{"values":[0,1,2,3,4,5],"tickSize":5,"labelPadding":7,"labelFontSize":13,"labelLineHeight":16,"labelOverlap":false,"labelBound":false,"labelFlush":false,"labelExpr":"datum.value == 1 ? ['-', '-'] : datum.value == 2 ? ['+', '-'] : datum.value == 3 ? ['-', '+'] : datum.value == 4 ? ['+', '+'] : ''","title":"Neurons","titleFontSize":13,"titlePadding":6}},"y":{"field":"v","type":"quantitative","stack":null,"scale":{"domain":[0,280],"nice":false},"axis":null}},
"layer":[
{"mark":{"type":"bar","orient":"vertical","width":12,"xOffset":{"expr":"datum.k == 0 ? -6 : 6"},"stroke":"black","strokeWidth":0.8},"encoding":{"fill":{"field":"t","type":"nominal","sort":null,"scale":{"range":["black","white"]},"legend":null}}},
{"mark":{"type":"rule","color":"black","strokeWidth":0.8,"xOffset":{"expr":"datum.k == 0 ? -6 : 6"}},"encoding":{"y2":{"field":"hi"}}},
{"mark":{"type":"tick","orient":"horizontal","size":6,"thickness":0.8,"color":"black","xOffset":{"expr":"datum.k == 0 ? -6 : 6"}},"encoding":{"y":{"field":"hi","type":"quantitative","scale":{"domain":[0,280],"nice":false},"axis":null}}},
{"mark":{"type":"text","fontSize":10,"dy":-3,"baseline":"alphabetic","color":"black","xOffset":{"expr":"datum.k == 0 ? -6 : 6"}},"encoding":{"y":{"field":"hi","type":"quantitative","scale":{"domain":[0,280],"nice":false},"axis":null},"text":{"field":"s","type":"nominal"}}},
{"mark":{"type":"rule","color":"black","strokeWidth":1,"yOffset":43,"xOffset":-19,"x2Offset":19},"encoding":{"x2":{"field":"g"},"y":{"value":"height"}}}
]},
{"width":117,"height":88,"data":{"values":[]},"mark":{"type":"point","opacity":0},"encoding":{}},
{"width":145,"height":88,"data":{"name":"D3"},
"encoding":{"x":{"field":"g","type":"quantitative","scale":{"domain":[0,5],"nice":false,"zero":false},"axis":{"values":[0,1,2,3,4,5],"tickSize":5,"labelPadding":7,"labelFontSize":13,"labelLineHeight":16,"labelOverlap":false,"labelBound":false,"labelFlush":false,"labelAlign":{"condition":{"test":"datum.value == 0","value":"right"},"value":"center"},"labelExpr":"datum.value == 0 ? ['Mito-TEMPO 10 µM', 'Cd 10 µM'] : datum.value == 1 ? ['-', '-'] : datum.value == 2 ? ['+', '-'] : datum.value == 3 ? ['-', '+'] : datum.value == 4 ? ['+', '+'] : ''","title":"PC12 cells","titleFontSize":13,"titlePadding":6}},"y":{"field":"v","type":"quantitative","stack":null,"scale":{"domain":[0,280],"nice":false},"axis":{"values":[0,70,140,210,280],"tickSize":5,"labelPadding":8,"labelFontSize":12,"title":null}}},
"layer":[
{"mark":{"type":"bar","orient":"vertical","width":12,"xOffset":{"expr":"datum.k == 0 ? -6 : 6"},"stroke":"black","strokeWidth":0.8},"encoding":{"fill":{"field":"t","type":"nominal","sort":null,"scale":{"range":["black","white"]},"legend":{"orient":"none","legendX":25.5,"legendY":-24.5,"title":null,"direction":"vertical","padding":0,"rowPadding":2,"labelFontSize":11,"labelOffset":9.5,"symbolType":"M-1.5,-0.8H1.5V0.8H-1.5Z","symbolSize":100,"symbolStrokeColor":"black","symbolStrokeWidth":1}}}},
{"mark":{"type":"rule","color":"black","strokeWidth":0.8,"xOffset":{"expr":"datum.k == 0 ? -6 : 6"}},"encoding":{"y2":{"field":"hi"}}},
{"mark":{"type":"tick","orient":"horizontal","size":6,"thickness":0.8,"color":"black","xOffset":{"expr":"datum.k == 0 ? -6 : 6"}},"encoding":{"y":{"field":"hi","type":"quantitative","scale":{"domain":[0,280],"nice":false},"axis":{"values":[0,70,140,210,280],"tickSize":5,"labelPadding":8,"labelFontSize":12,"title":null}}}},
{"mark":{"type":"text","fontSize":10,"dy":-3,"baseline":"alphabetic","color":"black","xOffset":{"expr":"datum.k == 0 ? -6 : 6"}},"encoding":{"y":{"field":"hi","type":"quantitative","scale":{"domain":[0,280],"nice":false},"axis":{"values":[0,70,140,210,280],"tickSize":5,"labelPadding":8,"labelFontSize":12,"title":null}},"text":{"field":"s","type":"nominal"}}},
{"mark":{"type":"rule","color":"black","strokeWidth":1,"yOffset":43,"xOffset":-19,"x2Offset":19},"encoding":{"x2":{"field":"g"},"y":{"value":"height"}}}
]}
],
"config":{"font":"Liberation Sans","view":{"stroke":null},
"axis":{"grid":false,"domainColor":"black","domainWidth":1,"tickColor":"black","tickWidth":1,"labelColor":"black","titleColor":"black","labelFont":"Liberation Sans","titleFont":"Liberation Sans","titleFontWeight":"normal","labelFlush":false},
"legend":{"labelFont":"Liberation Sans","labelColor":"black"},
"title":{"font":"Liberation Sans","fontWeight":"normal","color":"black"},
"text":{"font":"Liberation Sans"}}
}
